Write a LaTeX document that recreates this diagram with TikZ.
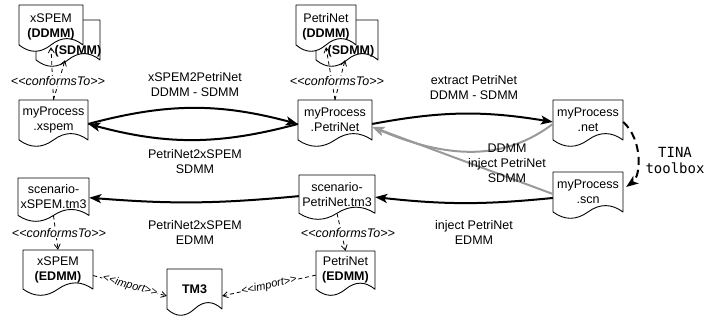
\documentclass[tikz,border=0pt]{standalone}
\usepackage{fontspec}
\setmainfont{Liberation Sans}
\newfontfamily\tinafont{DejaVu Sans Mono}
\usetikzlibrary{arrows.meta}
\newcommand\ltlt{<\kern0pt<}
\newcommand\gtgt{>\kern0pt>}
% #1 extra node options, #2 name, #3 x1, #4 y1, #5 x2, #6 y2 (lowest point), #7 text
\newcommand\docnode[7][]{%
  \pgfmathsetmacro\dDw{#5-#3}%
  \pgfmathsetmacro\dDh{#6-#4}%
  \pgfmathsetmacro\dEa{#4+0.85*\dDh}%
  \pgfmathsetmacro\dRa{#4+0.67*\dDh}%
  \pgfmathsetmacro\dLa{#4+1.03*\dDh}%
  \pgfmathsetmacro\dXa{#3+0.8333*\dDw}%
  \pgfmathsetmacro\dXb{#3+0.6667*\dDw}%
  \pgfmathsetmacro\dXc{#3+0.5*\dDw}%
  \pgfmathsetmacro\dXd{#3+0.3333*\dDw}%
  \pgfmathsetmacro\dXe{#3+0.1667*\dDw}%
  \pgfmathsetmacro\dCy{#4+0.425*\dDh}%
  \pgfmathsetmacro\dNh{0.85*\dDh}%
  \draw[docline] (#3,#4) -- (#5,#4) -- (#5,\dEa)
     .. controls (\dXa,\dRa) and (\dXb,\dRa) .. (\dXc,\dEa)
     .. controls (\dXd,\dLa) and (\dXe,\dLa) .. (#3,\dEa) -- cycle;
  \node[doctext, minimum width=\dDw pt, minimum height=\dNh pt, #1] (#2) at (\dXc,\dCy) {#7};
}
\begin{document}
\begin{tikzpicture}[x=1pt,y=-1pt,
  docline/.style={draw=black,line width=0.9pt,fill=white,line join=round},
  doctext/.style={inner sep=0pt,align=center,font=\fontsize{12.5}{15}\selectfont},
  lbl/.style={inner sep=1pt,align=center,font=\fontsize{12.5}{15}\selectfont},
  stereo/.style={inner sep=0.5pt,fill=white,font=\fontsize{12.5}{15}\selectfont\itshape},
  imp/.style={inner sep=0.5pt,fill=white,font=\fontsize{11}{13}\selectfont\itshape},
  bigarrow/.style={line width=2pt,-{Stealth[length=12pt,width=9pt,inset=3pt]}},
  grayarrow/.style={line width=2pt,draw=black!40,-{Stealth[length=12pt,width=9pt,inset=3pt,fill=black!40]}},
  confarrow/.style={line width=0.8pt,dash pattern=on 4pt off 3pt,-{Straight Barb[length=5pt,width=6pt]}},
  tinaarrow/.style={line width=2pt,dash pattern=on 8pt off 5pt,-{Stealth[length=12pt,width=9pt,inset=3pt]}}
]
\useasboundingbox (0,0) rectangle (710,320);

% metamodel stacks
\docnode{xdback}{36}{20}{100}{67}{}
\docnode[yshift=-2pt]{xdfront}{19}{5}{83}{52}{xSPEM\\\textbf{(DDMM)}}
\node[lbl] (xdbacklbl) at (78,51) {\textbf{(SDMM)}};

\docnode{pdback}{316}{20}{378}{67}{}
\docnode[yshift=-2pt]{pdfront}{296}{5}{356}{52}{PetriNet\\\textbf{(DDMM)}}
\node[lbl] (pdbacklbl) at (351,51) {\textbf{(SDMM)}};

% models
\docnode{mpx}{19}{100}{88}{147}{myProcess\\.xspem}
\docnode{mpp}{298}{100}{372}{147}{myProcess\\.PetriNet}
\docnode{mpn}{553}{100}{623}{147}{myProcess\\.net}
\docnode{mps}{553}{172}{623}{219}{myProcess\\.scn}
\docnode{scx}{18}{178}{89}{222}{scenario-\\xSPEM.tm3}
\docnode{scp}{299}{175}{375}{220}{scenario-\\PetriNet.tm3}
\docnode{exs}{23}{250}{93}{296}{xSPEM\\\textbf{(EDMM)}}
\docnode{epn}{316}{251}{375}{296}{PetriNet\\\textbf{(EDMM)}}
\docnode{tm3}{167}{269}{222}{316}{\textbf{TM3}}

% transformations
\draw[bigarrow] ([yshift=-4pt]mpx.east) to[bend left=15] ([yshift=-4pt]mpp.west);
\draw[bigarrow] ([yshift=-4pt]mpp.west) to[bend left=15] ([yshift=-4pt]mpx.east);
\draw[bigarrow] ([yshift=-4pt]mpp.east) to[bend left=10] ([yshift=-2pt]mpn.west);
\draw[grayarrow] ([yshift=-4pt]mpn.west) .. controls (505,160) and (450,160) .. ([yshift=-7pt]mpp.east);
\draw[grayarrow] ([yshift=-2pt]mps.west) -- ([yshift=-7pt]mpp.east);
\draw[bigarrow] ([yshift=-6pt]mps.west) to[bend left=6] ([yshift=-3pt]scp.east);
\draw[bigarrow] ([yshift=-2pt]scp.west) to[bend left=5] ([yshift=-1pt]scx.east);
\draw[tinaarrow] ([yshift=-2pt]mpn.east) .. controls (643,140) and (641,176) .. ([xshift=3pt,yshift=5pt]mps.east);

% conformsTo
\draw[confarrow] (mpx.north) -- (xdfront.south);
\draw[confarrow] (mpx.north) -- ([xshift=-3pt]xdback.south);
\draw[confarrow] (mpp.north) -- (pdfront.south);
\draw[confarrow] (mpp.north) -- ([xshift=-2pt]pdback.south);
\draw[confarrow] (scx.south) -- (exs.north);
\draw[confarrow] (scp.south) -- (epn.north);
\node[stereo] (c1) at (58,81) {\ltlt conformsTo\gtgt};
\node[stereo] (c2) at (337,81) {\ltlt conformsTo\gtgt};
\node[stereo] (c3) at (59,233) {\ltlt conformsTo\gtgt};
\node[stereo] (c4) at (348,233) {\ltlt conformsTo\gtgt};

% imports
\draw[confarrow] ([yshift=-6pt]exs.east) -- node[imp,sloped] (i1) {\ltlt import\gtgt} ([yshift=-7pt]tm3.west);
\draw[confarrow] ([yshift=-5pt]epn.west) -- node[imp,sloped] (i2) {\ltlt import\gtgt} ([yshift=-7pt]tm3.east);

% labels
\node[lbl] (l1) at (195,84.5) {xSPEM2PetriNet\\DDMM - SDMM};
\node[lbl] (l2) at (195,162) {PetriNet2xSPEM\\SDMM};
\node[lbl] (l3) at (474,88) {extract PetriNet\\DDMM - SDMM};
\node[lbl] (l4) at (507,163) {DDMM\\inject PetriNet\\SDMM};
\node[lbl] (l5) at (474,232) {inject PetriNet\\EDMM};
\node[lbl] (l6) at (195,232) {PetriNet2xSPEM\\EDMM};
\node[align=center,font=\tinafont\fontsize{14}{16}\selectfont] (tina) at (675,160) {TINA\\toolbox};
\end{tikzpicture}
\end{document}
